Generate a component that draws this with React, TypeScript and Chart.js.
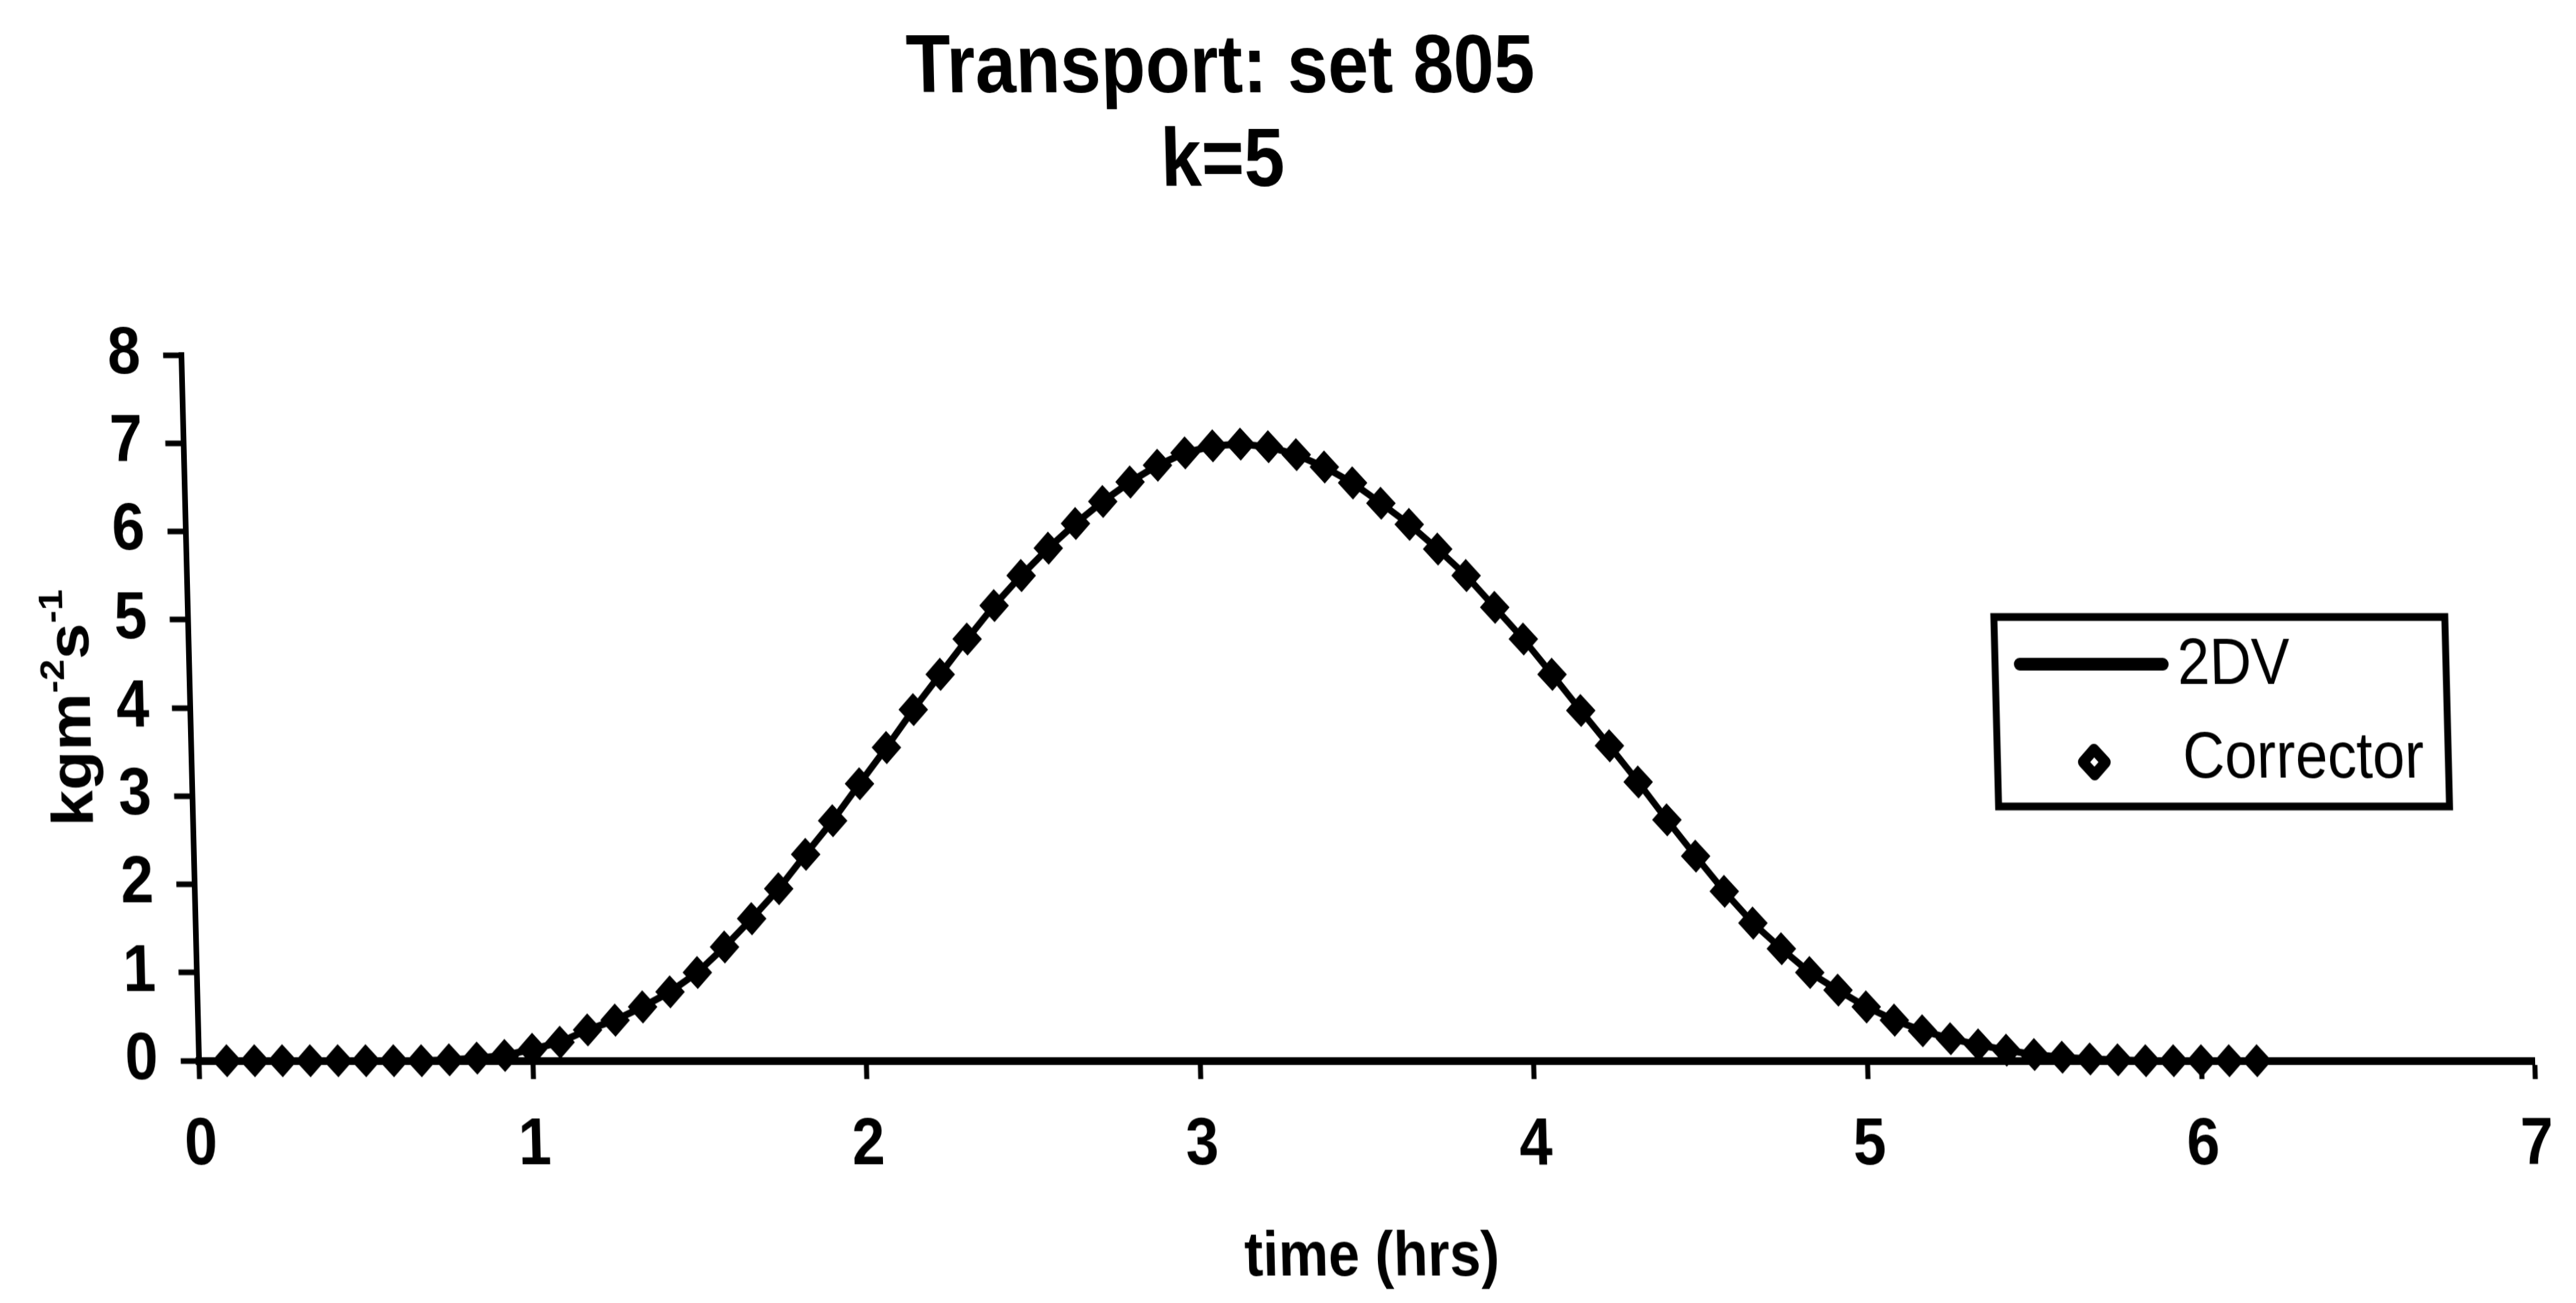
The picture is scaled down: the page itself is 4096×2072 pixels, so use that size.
import React, { useEffect, useRef } from 'react';
import { Chart, registerables } from 'chart.js';

Chart.register(...registerables);

const FONT = '"Liberation Sans", Arial, Helvetica, sans-serif';

// ---- text ----
const titleLines = ['Transport: set 805', 'k=5'];
const xAxisTitle = 'time (hrs)';
// y axis unit, drawn with raised exponents: kg m^-2 s^-1
const yAxisTitleParts: [string, boolean][] = [
  ['kgm', false],
  ['-2', true],
  ['s', false],
  ['-1', true],
];
const seriesNames = ['2DV', 'Corrector'];

// ---- axes ----
const xRange = [0, 7];
const yRange = [0, 8];
const tickStep = 1;

// ---- data (transport, kg m^-2 s^-1) ----
// Corrector output, sampled every 5 minutes
const correctorMinutes = [
  5, 10, 15, 20, 25, 30, 35, 40, 45, 50, 55, 60, 65, 70, 75, 80, 85, 90, 95, 100,
  105, 110, 115, 120, 125, 130, 135, 140, 145, 150, 155, 160, 165, 170, 175, 180,
  185, 190, 195, 200, 205, 210, 215, 220, 225, 230, 235, 240, 245, 250, 255, 260,
  265, 270, 275, 280, 285, 290, 295, 300, 305, 310, 315, 320, 325, 330, 335, 340,
  345, 350, 355, 360, 365, 370,
];
const correctorFlux = [
  0, 0, 0, 0, 0, 0, 0, 0,
  0.01, 0.03, 0.06, 0.13,
  0.21, 0.35, 0.46, 0.61, 0.78, 1.0, 1.29, 1.61,
  1.95, 2.34, 2.72, 3.14, 3.55, 3.98, 4.38, 4.78,
  5.16, 5.5, 5.81, 6.09, 6.34, 6.56, 6.75, 6.89,
  6.97, 6.99, 6.96, 6.87, 6.73, 6.55, 6.32, 6.08,
  5.8, 5.5, 5.14, 4.78, 4.38, 3.97, 3.57, 3.16,
  2.73, 2.32, 1.92, 1.56, 1.27, 1.0, 0.8, 0.61,
  0.46, 0.34, 0.25, 0.18, 0.12, 0.07, 0.04, 0.02,
  0.01, 0, 0, 0, 0, 0,
];

// 2DV model output on a 5-minute clock, 0 to 7 hours
const dvMinutes = [
  0, 5, 10, 15, 20, 25, 30, 35, 40, 45, 50, 55, 60, 65, 70, 75, 80, 85, 90, 95, 100,
  105, 110, 115, 120, 125, 130, 135, 140, 145, 150, 155, 160, 165, 170, 175, 180,
  185, 190, 195, 200, 205, 210, 215, 220, 225, 230, 235, 240, 245, 250, 255, 260,
  265, 270, 275, 280, 285, 290, 295, 300, 305, 310, 315, 320, 325, 330, 335, 340,
  345, 350, 355, 360, 365, 370, 375, 380, 385, 390, 395, 400, 405, 410, 415, 420,
];
const dvFlux = [
  0,
  0, 0, 0, 0, 0, 0, 0, 0,
  0.01, 0.03, 0.06, 0.13,
  0.21, 0.35, 0.46, 0.61, 0.78, 1.0, 1.29, 1.61,
  1.95, 2.34, 2.72, 3.14, 3.55, 3.98, 4.38, 4.78,
  5.16, 5.5, 5.81, 6.09, 6.34, 6.56, 6.75, 6.89,
  6.97, 6.99, 6.96, 6.87, 6.73, 6.55, 6.32, 6.08,
  5.8, 5.5, 5.14, 4.78, 4.38, 3.97, 3.57, 3.16,
  2.73, 2.32, 1.92, 1.56, 1.27, 1.0, 0.8, 0.61,
  0.46, 0.34, 0.25, 0.18, 0.12, 0.07, 0.04, 0.02,
  0.01, 0, 0, 0, 0, 0,
  0, 0, 0, 0, 0, 0, 0, 0, 0, 0,
];

// ---- page geometry ----
const PAGE_W = 4096;
const PAGE_H = 2072;
const V_STRETCH = 1.12; // canvas is drawn short and stretched to page height
const CANVAS_H = Math.round(PAGE_H / V_STRETCH);
const SHEAR_DEG = 1.43;

const PLOT_LEFT = 316.4;
const PLOT_RIGHT = 4049;
const PLOT_TOP = 504;
const PLOT_BOTTOM = 1506;
const BASELINE_PX = PLOT_BOTTOM * V_STRETCH; // x-axis line on the page, shear pivot
const Y_AXIS_W = 200;
const X_AXIS_H = CANVAS_H - PLOT_BOTTOM;

const pageText = {
  id: 'pageText',
  afterDraw(chart: any) {
    const ctx: CanvasRenderingContext2D = chart.ctx;
    ctx.save();
    ctx.fillStyle = '#000';
    ctx.strokeStyle = '#000';

    // chart title
    ctx.font = `bold 116px ${FONT}`;
    ctx.textAlign = 'center';
    ctx.textBaseline = 'alphabetic';
    const titleBaselines = [130.5, 263.5];
    titleLines.forEach((line, i) => ctx.fillText(line, 1980, titleBaselines[i]));

    // y axis title, rotated, with exponents
    ctx.save();
    ctx.translate(124, (PLOT_TOP + PLOT_BOTTOM) / 2);
    ctx.rotate(-Math.PI / 2);
    const mainFont = `bold 92px ${FONT}`;
    const supFont = `bold 54px ${FONT}`;
    const widths = yAxisTitleParts.map(([t, sup]) => {
      ctx.font = sup ? supFont : mainFont;
      return ctx.measureText(t).width;
    });
    const total = widths.reduce((a, b) => a + b, 0);
    let px = -total / 2;
    const base = 33;
    ctx.textAlign = 'left';
    yAxisTitleParts.forEach(([t, sup], i) => {
      ctx.font = sup ? supFont : mainFont;
      ctx.fillText(t, px, sup ? base - 40 : base);
      px += widths[i];
    });
    ctx.restore();

    // legend
    const box = { l: 3188, r: 3905, t: 876, b: 1145 };
    ctx.lineWidth = 11;
    ctx.strokeRect(box.l, box.t, box.r - box.l, box.b - box.t);

    const ds0 = chart.data.datasets[0];
    const ds1 = chart.data.datasets[1];
    ctx.font = `92px ${FONT}`;
    ctx.textAlign = 'left';
    ctx.textBaseline = 'middle';

    ctx.lineWidth = 18;
    ctx.lineCap = 'round';
    ctx.beginPath();
    ctx.moveTo(3227, 943);
    ctx.lineTo(3455, 943);
    ctx.stroke();
    ctx.fillText(ds0.label, 3478, 946);

    const cx = 3342, cy = 1082, r = 18;
    ctx.beginPath();
    ctx.moveTo(cx, cy - r);
    ctx.lineTo(cx + r, cy);
    ctx.lineTo(cx, cy + r);
    ctx.lineTo(cx - r, cy);
    ctx.closePath();
    ctx.fillStyle = '#fff';
    ctx.fill();
    ctx.lineWidth = 16;
    ctx.lineJoin = 'round';
    ctx.stroke();
    ctx.fillStyle = '#000';
    ctx.fillText(ds1.label, 3483, 1079);

    ctx.restore();
  },
};

export default function App() {
  const canvasRef = useRef<HTMLCanvasElement>(null);

  useEffect(() => {
    const canvas = canvasRef.current;
    if (!canvas) return;

    const tickFont = { family: FONT, size: 94, weight: 'bold' as const };

    const chart = new Chart(canvas, {
      type: 'line',
      data: {
        datasets: [
          {
            label: seriesNames[0],
            data: dvMinutes.map((m, i) => ({ x: m / 60, y: dvFlux[i] })),
            borderColor: '#000',
            borderWidth: 10,
            pointRadius: 0,
            pointHoverRadius: 0,
            fill: false,
            tension: 0,
            clip: false,
          },
          {
            label: seriesNames[1],
            data: correctorMinutes.map((m, i) => ({ x: m / 60, y: correctorFlux[i] })),
            showLine: false,
            pointStyle: 'rectRot',
            pointRadius: 20,
            pointHoverRadius: 20,
            pointBorderWidth: 5,
            pointBackgroundColor: '#000',
            pointBorderColor: '#000',
            clip: false,
          },
        ],
      },
      options: {
        responsive: false,
        animation: false,
        devicePixelRatio: 1,
        events: [],
        layout: {
          padding: {
            left: PLOT_LEFT - Y_AXIS_W,
            right: PAGE_W - PLOT_RIGHT,
            top: PLOT_TOP,
            bottom: 0,
          },
        },
        plugins: {
          legend: { display: false },
          title: { display: false },
          tooltip: { enabled: false },
        },
        scales: {
          x: {
            type: 'linear',
            min: xRange[0],
            max: xRange[1],
            ticks: { stepSize: tickStep, color: '#000', font: tickFont, padding: 39, maxRotation: 0 },
            grid: {
              display: true,
              drawOnChartArea: false,
              drawTicks: true,
              tickLength: 26,
              tickWidth: 8,
              tickColor: '#000',
            },
            border: { display: true, color: '#000', width: 11 },
            title: {
              display: true,
              text: xAxisTitle,
              color: '#000',
              font: { family: FONT, size: 89, weight: 'bold', lineHeight: 1 },
              padding: { top: 0, bottom: 19.5 },
            },
            afterFit: (scale: any) => {
              scale.height = X_AXIS_H;
            },
          },
          y: {
            type: 'linear',
            min: yRange[0],
            max: yRange[1],
            ticks: { stepSize: tickStep, color: '#000', font: tickFont, padding: 36 },
            grid: {
              display: true,
              drawOnChartArea: false,
              drawTicks: true,
              tickLength: 29,
              tickWidth: 8,
              tickColor: '#000',
            },
            border: { display: true, color: '#000', width: 9 },
            afterFit: (scale: any) => {
              scale.width = Y_AXIS_W;
            },
          },
        },
      },
      plugins: [pageText],
    });

    return () => chart.destroy();
  }, []);

  return (
    <div
      style={{
        position: 'fixed',
        left: 0,
        top: 0,
        width: PAGE_W,
        height: PAGE_H,
        overflow: 'hidden',
        background: '#fff',
      }}
    >
      <canvas
        ref={canvasRef}
        width={PAGE_W}
        height={CANVAS_H}
        style={{
          display: 'block',
          width: `${PAGE_W}px`,
          height: `${PAGE_H}px`,
          transform: `skewX(${SHEAR_DEG}deg)`,
          transformOrigin: `0px ${BASELINE_PX}px`,
        }}
      />
    </div>
  );
}
